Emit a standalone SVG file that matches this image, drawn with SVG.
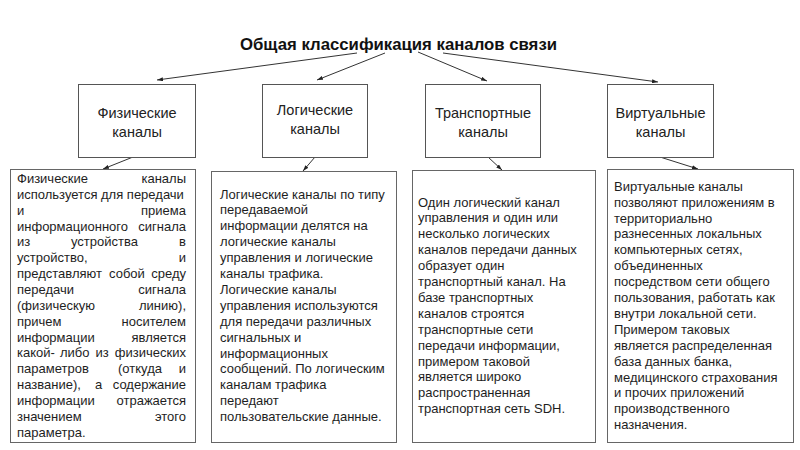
<svg xmlns="http://www.w3.org/2000/svg" width="800" height="450" viewBox="0 0 800 450">
<defs>
<marker id="ah" viewBox="0 0 6 4" refX="6" refY="2" markerWidth="6" markerHeight="4" markerUnits="userSpaceOnUse" orient="auto">
<path d="M0,0 L6,2 L0,4 Z" fill="#222"/>
</marker>
<style>
.box{fill:#fff;stroke:#555;stroke-width:1}
.dbox{fill:#fff;stroke:#666;stroke-width:1}
.hd{font-family:"Liberation Sans",Arial,sans-serif;font-size:14.5px;fill:#222;text-anchor:middle}
.t{font-family:"Liberation Sans",Arial,sans-serif;font-size:13px;fill:#1e1e1e}
.e{text-anchor:end}
.title{font-family:"Liberation Sans",Arial,sans-serif;font-size:17px;font-weight:bold;fill:#111;text-anchor:middle}
.c{stroke:#333;stroke-width:1;fill:none;marker-end:url(#ah)}
</style>
</defs>
<rect width="800" height="450" fill="#fff"/>
<g id="title">
<text class="title" x="398.5" y="50" textLength="317" lengthAdjust="spacingAndGlyphs">Общая классификация каналов связи</text>
</g>
<g id="connectors">
<line class="c" x1="357" y1="53" x2="157" y2="80"/>
<line class="c" x1="385" y1="53" x2="317" y2="80"/>
<line class="c" x1="418" y1="52" x2="487" y2="81"/>
<line class="c" x1="443" y1="53" x2="658" y2="82"/>
<line class="c" x1="133" y1="157" x2="103" y2="169"/>
<line class="c" x1="315" y1="157" x2="303" y2="171"/>
<line class="c" x1="488" y1="157" x2="502" y2="170"/>
<line class="c" x1="660" y1="157" x2="698" y2="169"/>
</g>
<g id="phys">
<rect class="box" x="78.5" y="84.5" width="117" height="73"/>
<text class="hd" x="137" y="118">Физические</text>
<text class="hd" x="137" y="137">каналы</text>
</g>
<g id="log">
<rect class="box" x="262.5" y="84.5" width="105" height="73"/>
<text class="hd" x="315" y="115">Логические</text>
<text class="hd" x="315" y="134">каналы</text>
</g>
<g id="trans">
<rect class="box" x="425.5" y="84.5" width="115" height="73"/>
<text class="hd" x="483" y="118">Транспортные</text>
<text class="hd" x="483" y="137">каналы</text>
</g>
<g id="virt">
<rect class="box" x="607.5" y="84.5" width="106" height="73"/>
<text class="hd" x="660.5" y="118">Виртуальные</text>
<text class="hd" x="660.5" y="137">каналы</text>
</g>
<g id="phys-desc">
<rect class="dbox" x="10.5" y="169.5" width="185" height="273"/>
<g class="t">
<text x="17" y="183">Физические</text><text class="e" x="186" y="183">каналы</text>
<text x="17" y="198.9">используется для передачи</text>
<text x="17" y="214.7">и</text><text class="e" x="186" y="214.7">приема</text>
<text x="17" y="230.6">информационного</text><text class="e" x="186" y="230.6">сигнала</text>
<text x="17" y="246.4">из</text><text x="71" y="246.4">устройства</text><text class="e" x="186" y="246.4">в</text>
<text x="17" y="262.3">устройство,</text><text class="e" x="186" y="262.3">и</text>
<text x="17" y="278.1">представляют</text><text x="109" y="278.1">собой</text><text class="e" x="186" y="278.1">среду</text>
<text x="17" y="294">передачи</text><text class="e" x="186" y="294">сигнала</text>
<text x="17" y="309.8">(физическую</text><text class="e" x="186" y="309.8">линию),</text>
<text x="17" y="325.7">причем</text><text class="e" x="186" y="325.7">носителем</text>
<text x="17" y="341.5">информации</text><text class="e" x="186" y="341.5">является</text>
<text x="17" y="357.4">какой-</text><text x="60" y="357.4">либо</text><text x="95.5" y="357.4">из</text><text class="e" x="186" y="357.4">физических</text>
<text x="17" y="373.2">параметров</text><text x="118" y="373.2">(откуда</text><text class="e" x="186" y="373.2">и</text>
<text x="17" y="389.1">название),</text><text x="95" y="389.1">а</text><text class="e" x="186" y="389.1">содержание</text>
<text x="17" y="404.9">информации</text><text class="e" x="186" y="404.9">отражается</text>
<text x="17" y="420.8">значением</text><text class="e" x="186" y="420.8">этого</text>
<text x="17" y="436.6">параметра.</text>
</g>
</g>
<g id="log-desc">
<rect class="dbox" x="211.5" y="171.5" width="185" height="271"/>
<text class="t" y="198.5">
<tspan x="220">Логические каналы по типу</tspan>
<tspan x="220" dy="15.9">передаваемой</tspan>
<tspan x="220" dy="15.9">информации делятся на</tspan>
<tspan x="220" dy="15.9">логические каналы</tspan>
<tspan x="220" dy="15.9">управления и логические</tspan>
<tspan x="220" dy="15.9">каналы трафика.</tspan>
<tspan x="220" dy="15.9">Логические каналы</tspan>
<tspan x="220" dy="15.9">управления используются</tspan>
<tspan x="220" dy="15.9">для передачи различных</tspan>
<tspan x="220" dy="15.9">сигнальных и</tspan>
<tspan x="220" dy="15.9">информационных</tspan>
<tspan x="220" dy="15.9">сообщений. По логическим</tspan>
<tspan x="220" dy="15.9">каналам трафика</tspan>
<tspan x="220" dy="15.9">передают</tspan>
<tspan x="220" dy="15.9">пользовательские данные.</tspan>
</text>
</g>
<g id="trans-desc">
<rect class="dbox" x="412.5" y="170.5" width="183" height="272"/>
<text class="t" y="206.5">
<tspan x="418">Один логический канал</tspan>
<tspan x="418" dy="15.9">управления и один или</tspan>
<tspan x="418" dy="15.9">несколько логических</tspan>
<tspan x="418" dy="15.9">каналов передачи данных</tspan>
<tspan x="418" dy="15.9">образует один</tspan>
<tspan x="418" dy="15.9">транспортный канал. На</tspan>
<tspan x="418" dy="15.9">базе транспортных</tspan>
<tspan x="418" dy="15.9">каналов строятся</tspan>
<tspan x="418" dy="15.9">транспортные сети</tspan>
<tspan x="418" dy="15.9">передачи информации,</tspan>
<tspan x="418" dy="15.9">примером таковой</tspan>
<tspan x="418" dy="15.9">является широко</tspan>
<tspan x="418" dy="15.9">распространенная</tspan>
<tspan x="418" dy="15.9">транспортная сеть SDH.</tspan>
</text>
</g>
<g id="virt-desc">
<rect class="dbox" x="607.5" y="169.5" width="186" height="273"/>
<text class="t" y="190.7">
<tspan x="614">Виртуальные каналы</tspan>
<tspan x="614" dy="15.9">позволяют приложениям в</tspan>
<tspan x="614" dy="15.9">территориально</tspan>
<tspan x="614" dy="15.9">разнесенных локальных</tspan>
<tspan x="614" dy="15.9">компьютерных сетях,</tspan>
<tspan x="614" dy="15.9">объединенных</tspan>
<tspan x="614" dy="15.9">посредством сети общего</tspan>
<tspan x="614" dy="15.9">пользования, работать как</tspan>
<tspan x="614" dy="15.9">внутри локальной сети.</tspan>
<tspan x="614" dy="15.9">Примером таковых</tspan>
<tspan x="614" dy="15.9">является распределенная</tspan>
<tspan x="614" dy="15.9">база данных банка,</tspan>
<tspan x="614" dy="15.9">медицинского страхования</tspan>
<tspan x="614" dy="15.9">и прочих приложений</tspan>
<tspan x="614" dy="15.9">производственного</tspan>
<tspan x="614" dy="15.9">назначения.</tspan>
</text>
</g>
</svg>
